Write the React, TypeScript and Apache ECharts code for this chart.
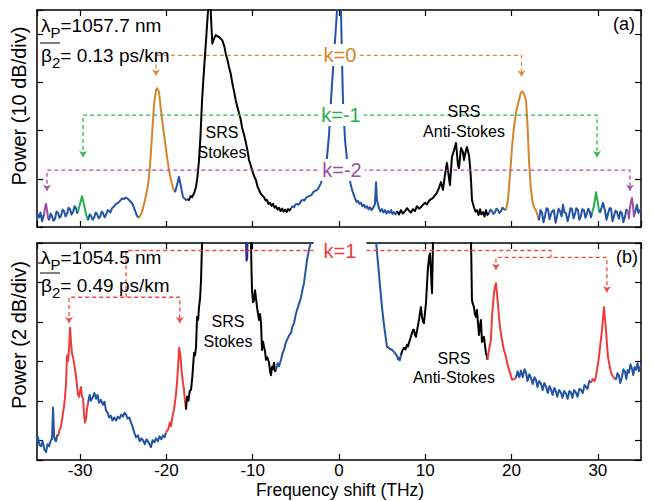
import React, { useEffect, useRef } from "react";
import * as echarts from "echarts";

const FONT = "Liberation Sans";

const BLUE = "#2454A6";
const BLACK = "#000000";
const ORANGE = "#D5852C";
const GREEN = "#22B04B";
const PURPLE = "#A14AA6";
const RED = "#EE3B3B";
const NAVY = "#2E3192";

// ---------- panel (a): frequency shift (THz), power (dB) ----------
const topBlueA = [[-35.1,1.4],[-34.9,2.6],[-34.76,2.0],[-34.6,3.0],[-34.41,1.2],[-34.18,2.7]];
const topPurpleA = [[-34.18,2.7],[-34.07,3.9],[-33.95,4.8],[-33.84,3.5],[-33.72,1.9],[-33.6,1.4]];
const topBlueB = [[-33.6,1.4],[-33.43,2.8],[-33.26,2.3],[-33.1,1.3],[-32.91,1.7],[-32.75,3.2],[-32.56,2.9],[-32.4,1.9],[-32.21,2.3],[-32.05,3.6],[-31.87,3.3],[-31.7,2.2],[-31.52,2.7],[-31.35,4.0],[-31.17,3.7],[-31.0,2.6],[-30.82,3.1],[-30.65,4.3],[-30.48,3.9],[-30.35,2.9],[-30.24,3.3]];
const topGreenA = [[-30.24,3.3],[-30.01,4.8],[-29.78,6.4],[-29.55,4.6],[-29.32,2.7],[-29.08,1.4]];
const topBlueC = [[-29.08,1.4],[-28.9,2.6],[-28.74,2.3],[-28.55,1.5],[-28.39,1.9],[-28.2,3.0],[-28.04,2.7],[-27.85,1.8],[-27.69,2.1],[-27.5,3.2],[-27.35,2.9],[-27.15,2.0],[-27.0,2.5],[-26.8,3.5],[-26.65,3.3],[-26.5,3.0],[-26.3,3.9],[-26.1,4.2],[-25.84,4.8],[-25.6,5.0],[-25.38,5.4],[-25.15,5.9],[-24.91,5.8],[-24.7,6.1],[-24.45,5.8],[-24.1,5.2],[-23.9,4.6],[-23.75,3.9],[-23.41,2.3],[-23.17,1.9]];
const topOrangeA = [[-23.17,1.9],[-22.83,3.1],[-22.48,5.6],[-22.13,8.7],[-21.9,12.8],[-21.67,19.0],[-21.44,25.3],[-21.21,28.4],[-21.09,28.8],[-20.86,28.0],[-20.63,24.2],[-20.39,20.7],[-20.16,17.6],[-19.93,14.5],[-19.7,11.8],[-19.47,9.7],[-19.24,8.1],[-19.0,7.2]];
const topBlueD = [[-19.0,7.2],[-18.77,8.7],[-18.54,10.4],[-18.31,8.3],[-18.08,6.2],[-17.73,5.6],[-17.5,5.8]];
const topBlackA = [[-17.5,5.8],[-17.38,5.6],[-17.2,6.4],[-17.03,6.2],[-16.8,7.0],[-16.57,8.3],[-16.4,10.5],[-16.22,13.9],[-16.05,19.0],[-15.87,26.3],[-15.64,32.8],[-15.41,38.7],[-15.18,44.9],[-15.0,52],[-14.85,44.0],[-14.68,38.0],[-14.5,39.0],[-14.29,39.8],[-14.1,39.6],[-13.9,39.4],[-13.52,38.7],[-13.3,37.5],[-13.13,36.0],[-12.95,34.8],[-12.75,33.2],[-12.55,31.8],[-12.36,29.8],[-12.17,28.2],[-11.97,26.3],[-11.8,25.1],[-11.59,23.6],[-11.4,22.4],[-11.24,20.7],[-11.0,19.1],[-10.78,17.4],[-10.6,15.8],[-10.43,13.9],[-10.25,12.9],[-10.08,11.8],[-9.85,10.6],[-9.62,9.7],[-9.45,8.4],[-9.27,7.7],[-9.1,7.0],[-8.92,6.6],[-8.69,6.2],[-8.5,5.5],[-8.34,5.6],[-8.17,4.8],[-8.0,5.0],[-7.82,4.4],[-7.65,4.8],[-7.47,4.0],[-7.3,4.3],[-7.12,3.6],[-6.95,4.0],[-6.78,3.3],[-6.6,3.8],[-6.43,3.2],[-6.26,3.6],[-6.08,3.1],[-5.91,3.7],[-5.73,3.4],[-5.56,3.9]];
const topBlueE = [[-5.56,3.9],[-5.38,4.3],[-5.21,4.1],[-5.04,4.7],[-4.87,4.8],[-4.7,4.6],[-4.52,5.0],[-4.35,5.5],[-4.17,5.6],[-4.0,5.5],[-3.82,6.0],[-3.65,6.3],[-3.48,6.4],[-3.3,6.5],[-3.13,6.8],[-2.95,7.3],[-2.78,7.5],[-2.6,7.6],[-2.43,7.9],[-2.09,9.1],[-1.74,11.4],[-1.39,14.5],[-1.16,19.0],[-0.93,26.3],[-0.7,32.5],[-0.46,38.7],[-0.23,44.9],[0,60],[0.23,44.9],[0.35,34.6],[0.46,26.3],[0.7,18.0],[0.93,13.9],[1.16,10.4],[1.51,7.7],[1.85,6.0],[2.03,5.2],[2.2,5.4],[2.38,4.8],[2.55,5.0],[2.72,4.3],[2.9,4.6],[3.07,4.0],[3.24,4.3],[3.42,3.7],[3.59,4.1],[3.76,3.5],[3.94,3.9],[4.17,4.8],[4.29,9.3],[4.4,5.6],[4.63,3.9],[4.8,3.2],[4.98,3.7],[5.15,3.0],[5.33,3.5],[5.5,2.8],[5.68,3.3],[5.85,2.9],[6.03,3.5],[6.2,2.7],[6.37,3.1],[6.55,2.6],[6.72,3.3]];
const topBlackB = [[6.72,3.3],[6.95,2.6],[7.18,3.5],[7.4,2.8],[7.65,3.3],[7.88,3.9],[8.11,3.4],[8.34,3.0],[8.57,3.7],[8.8,3.3],[9.04,4.3],[9.27,3.8],[9.5,4.1],[9.73,4.6],[9.97,5.0],[10.2,4.7],[10.43,5.4],[10.66,5.8],[10.89,6.0],[11.07,6.5],[11.24,6.8],[11.42,7.4],[11.59,8.1],[11.82,9.3],[12.05,7.7],[12.28,10.8],[12.51,13.3],[12.75,10.1],[12.86,8.7],[13.09,14.5],[13.33,15.9],[13.56,17.4],[13.79,12.8],[13.9,12.2],[14.14,16.4],[14.37,15.5],[14.48,13.9],[14.72,15.9],[14.83,16.6],[15.06,14.9],[15.18,12.8],[15.3,9.7],[15.41,5.6],[15.64,4.1],[15.82,3.2],[15.99,3.5],[16.17,2.5],[16.34,3.7],[16.5,2.6],[16.69,3.1],[16.86,2.2],[17.03,3.5],[17.2,2.5],[17.38,2.9]];
const topBlueF = [[17.38,2.9],[17.55,3.6],[17.73,3.3],[17.9,2.7],[18.08,3.1],[18.25,3.8],[18.42,3.5],[18.6,2.9],[18.77,3.3],[18.95,4.0],[19.12,3.7],[19.35,3.5]];
const topOrangeB = [[19.35,3.5],[19.58,5.6],[19.7,8.3],[19.89,12.4],[20.05,16.6],[20.28,20.7],[20.51,23.6],[20.63,24.8],[20.86,26.3],[21.05,27.7],[21.2,28.1],[21.32,28.0],[21.55,27.1],[21.67,26.3],[21.86,20.7],[22.02,13.9],[22.21,8.3],[22.4,5.6],[22.6,4.1],[22.78,3.6],[22.94,2.9],[23.17,1.4]];
const topBlueG = [[23.17,1.4],[23.35,3.5],[23.52,3.1],[23.7,1.0],[23.87,2.3],[24.05,3.9],[24.22,3.7],[24.4,1.6],[24.57,2.7],[24.75,3.4],[24.91,3.5],[25.1,0.9],[25.26,2.1],[25.45,3.8],[25.61,3.3],[25.8,2.2],[25.96,4.6],[26.13,3.0],[26.3,2.9],[26.5,1.2],[26.65,2.3],[26.82,3.9],[27.0,3.7],[27.18,1.8],[27.35,2.7],[27.5,3.9],[27.69,3.5],[27.86,1.5],[28.04,2.3],[28.2,3.7],[28.39,3.5],[28.56,1.9],[28.74,2.9],[28.9,3.8],[29.08,3.1],[29.2,2.0],[29.32,2.9]];
const topGreenB = [[29.32,2.9],[29.5,4.0],[29.66,5.6],[29.78,7.2],[29.9,6.0],[30.01,5.0],[30.12,3.5],[30.24,2.9]];
const topBlueH = [[30.24,2.9],[30.4,3.8],[30.59,5.0],[30.82,3.5],[31.0,1.5],[31.17,2.7],[31.35,3.9],[31.52,3.9],[31.7,1.2],[31.87,2.3],[32.05,3.4],[32.21,3.1],[32.45,1.7],[32.6,3.2],[32.79,2.9],[32.95,1.0],[33.14,2.1],[33.3,3.6],[33.49,3.3]];
const topPurpleB = [[33.49,3.3],[33.6,1.8],[33.72,4.1],[33.95,6.0],[34.07,4.6],[34.18,2.2],[34.3,2.9]];
const topBlueI = [[34.3,2.9],[34.45,4.0],[34.53,4.6],[34.7,2.9],[34.88,3.5],[35.0,3.7]];

// ---------- panel (b) ----------
const botBlueA = [[-35.11,-0.1],[-34.9,0.15],[-34.7,-0.25],[-34.53,-0.3],[-34.35,-0.05],[-34.15,-0.45],[-33.95,-0.6],[-33.78,-0.2],[-33.6,-0.3],[-33.4,0.0],[-33.26,0.05],[-33.14,1.66],[-33.02,0.2],[-32.9,0.0],[-32.79,-0.05],[-32.67,0.25],[-32.56,0.2]];
const botRedA = [[-32.56,0.2],[-32.38,0.55],[-32.21,0.71],[-32.05,1.2],[-31.87,1.71],[-31.75,2.2],[-31.63,2.9],[-31.52,4.3],[-31.4,4.0],[-31.29,4.6],[-31.17,5.7],[-31.05,4.9],[-30.94,4.4],[-30.82,4.2],[-30.7,3.9],[-30.59,3.6],[-30.47,3.2],[-30.35,2.7],[-30.24,2.3],[-30.13,2.2],[-30.0,2.5],[-29.9,2.7],[-29.78,2.2],[-29.66,2.1],[-29.55,1.3],[-29.43,0.9],[-29.32,1.1],[-29.2,1.6],[-29.08,1.9]];
const botBlueB = [[-29.08,1.9],[-28.9,2.3],[-28.75,2.0],[-28.51,2.2],[-28.35,2.4],[-28.16,2.1],[-27.98,2.3],[-27.81,1.9],[-27.6,2.05],[-27.35,1.8],[-27.18,1.95],[-27.0,1.5],[-26.82,1.4],[-26.65,1.15],[-26.45,1.25],[-26.25,1.0],[-26.05,1.15],[-25.84,1.0],[-25.64,1.2],[-25.43,1.1],[-25.23,1.3],[-25.03,1.2],[-24.85,1.4],[-24.68,1.3],[-24.5,1.1],[-24.3,1.15],[-24.1,0.9],[-23.9,0.65],[-23.7,0.35],[-23.52,0.15],[-23.3,0.25],[-23.1,-0.05],[-22.9,0.1],[-22.71,0.0],[-22.5,-0.2],[-22.3,0.05],[-22.02,-0.15],[-21.8,-0.35],[-21.6,0.0],[-21.4,-0.1],[-21.21,0.1],[-21.0,-0.05],[-20.8,0.2],[-20.6,0.05],[-20.39,0.25],[-20.2,0.15],[-20.05,0.4]];
const botRedB = [[-20.05,0.4],[-19.8,0.55],[-19.6,0.9],[-19.47,0.71],[-19.3,1.2],[-19.12,1.56],[-18.9,2.3],[-18.75,3.07],[-18.62,4.0],[-18.52,4.69],[-18.38,4.3],[-18.22,3.43],[-18.08,2.9],[-17.96,2.57],[-17.85,2.0],[-17.73,1.56]];
const botBlackA = [[-17.73,1.56],[-17.61,2.22],[-17.45,2.0],[-17.3,2.5],[-17.15,2.57],[-17.0,3.2],[-16.8,4.43],[-16.68,4.3],[-16.57,4.74],[-16.45,6.25],[-16.33,6.1],[-16.22,6.75],[-16.1,7.2],[-15.99,8.11],[-15.87,10.1],[-15.75,12]];
const botNavy = [[-10.8,10.5],[-10.72,9.1],[-10.64,9.2],[-10.58,10.5]];
const botBlackB = [[-10.35,12],[-10.2,10.1],[-10.14,8.6],[-10.08,7.61],[-9.97,7.0],[-9.85,7.1],[-9.73,7.61],[-9.62,7.2],[-9.5,6.75],[-9.38,6.4],[-9.27,6.1],[-9.15,6.4],[-9.04,5.94],[-8.92,4.58],[-8.8,5.0],[-8.69,4.74],[-8.57,4.5],[-8.46,4.08],[-8.3,4.2],[-8.11,3.93],[-7.99,3.5],[-7.88,3.3],[-7.76,3.73],[-7.65,3.6],[-7.53,3.93],[-7.41,3.5],[-7.3,3.58]];
const botBlueC = [[-7.3,3.58],[-7.1,3.9],[-6.95,3.75],[-6.72,4.08],[-6.55,4.4],[-6.37,4.58],[-6.2,4.9],[-6.03,5.09],[-5.8,5.3],[-5.56,5.44],[-5.4,5.75],[-5.21,5.94],[-5.05,6.3],[-4.87,6.6],[-4.65,6.9],[-4.4,7.25],[-4.25,7.6],[-4.06,7.96],[-3.9,8.5],[-3.71,9.12],[-3.5,9.6],[-3.24,10.1],[-2.5,12.5],[0,20],[3.5,12.5],[4.29,10.1]];
const botBlueD = [[4.29,10.1],[4.45,9.3],[4.63,8.46],[4.8,7.6],[4.98,6.75],[5.2,5.9],[5.45,5.09],[5.56,4.74],[5.75,4.7],[5.91,4.63],[6.1,4.6],[6.37,4.48],[6.55,4.38],[6.72,4.28],[6.85,4.1],[6.95,4.18],[7.05,4.05],[7.18,4.33]];
const botBlackC = [[7.18,4.33],[7.35,4.55],[7.53,4.69],[7.7,4.6],[7.88,4.84],[8.0,4.75],[8.11,4.94],[8.3,5.2],[8.46,5.44],[8.58,5.6],[8.69,5.59],[8.8,5.35],[8.92,5.24],[9.1,5.7],[9.27,6.1],[9.4,6.5],[9.5,6.75],[9.62,6.25],[9.75,6.0],[9.85,5.94],[9.97,6.5],[10.08,6.95],[10.2,7.9],[10.31,8.77],[10.45,9.3],[10.54,9.47],[10.66,8.5],[10.78,7.46],[10.84,8.8],[10.89,10.1],[11.0,12]];
const botBlackD = [[15.1,12],[15.3,10.1],[15.41,7.1],[15.52,6.9],[15.64,6.75],[15.75,6.4],[15.87,6.25],[15.99,6.6],[16.1,6.0],[16.22,5.34],[16.34,5.8],[16.45,6.1],[16.57,4.99],[16.69,5.1],[16.8,5.24],[16.92,4.8],[17.03,4.43],[17.15,4.23],[17.2,4.08]];
const botRedC = [[17.2,4.08],[17.38,4.58],[17.5,4.85],[17.61,5.09],[17.73,6.25],[17.85,6.9],[17.96,7.46],[18.08,7.8],[18.19,7.96],[18.31,7.46],[18.42,6.9],[18.54,6.25],[18.7,5.6],[18.89,5.09],[19.1,4.6],[19.35,4.23],[19.5,3.9],[19.7,3.58],[19.9,3.3],[20.05,3.07],[20.3,3.1],[20.51,3.17]];
const botBlueE = [[20.51,3.17],[20.7,3.5],[20.9,3.2],[21.09,3.53],[21.3,3.2],[21.5,3.6],[21.67,3.43],[21.85,3.0],[22.05,3.35],[22.25,3.17],[22.45,2.85],[22.65,3.2],[22.83,3.07],[23.0,2.7],[23.2,3.0],[23.41,2.87],[23.6,2.55],[23.8,2.9],[23.99,2.72],[24.2,2.4],[24.4,2.75],[24.57,2.57],[24.75,2.3],[24.95,2.65],[25.14,2.47],[25.3,2.2],[25.5,2.55],[25.72,2.42],[25.9,2.15],[26.1,2.5],[26.3,2.37],[26.5,2.1],[26.7,2.5],[26.88,2.42],[27.05,2.15],[27.25,2.55],[27.46,2.42],[27.65,2.2],[27.85,2.6],[28.04,2.57],[28.25,2.4],[28.45,2.8],[28.62,2.72],[28.8,2.6],[29.0,3.0],[29.2,2.92]];
const botRedD = [[29.2,2.92],[29.4,3.1],[29.6,3.0],[29.78,3.22],[29.95,3.7],[30.13,4.23],[30.3,4.9],[30.48,5.59],[30.6,6.2],[30.71,6.75],[30.82,6.2],[30.94,5.59],[31.05,4.9],[31.17,4.23],[31.35,3.8],[31.52,3.43],[31.8,3.2],[32.1,3.07]];
const botBlueF = [[32.1,3.07],[32.27,3.4],[32.45,3.27],[32.6,2.9],[32.79,3.17],[32.95,3.6],[33.14,3.48],[33.3,3.1],[33.45,3.55],[33.6,3.43],[33.78,3.85],[33.95,3.63],[34.1,3.3],[34.25,3.7],[34.41,3.58],[34.6,3.9],[34.75,3.5],[34.88,3.68],[35.0,3.8]];

// ---------- annotation brackets (data coordinates) ----------
const bracketK0 = [[-21.2,31.4],[-21.2,35.6],[21.15,35.6],[21.15,31.2]];
const bracketKm1 = [[-29.66,14.5],[-29.66,23.2],[29.9,23.2],[29.9,14.5]];
const bracketKm2 = [[-33.84,7.5],[-33.84,11.8],[33.72,11.8],[33.72,7.5]];
const bracketK1Top = [[-24.68,7.25],[-24.68,9.62],[24.57,9.62],[24.57,9.27]];
const bracketK1Right = [[18.19,8.65],[18.19,9.27],[31.05,9.27],[31.05,7.5]];
const bracketK1Left = [[-31.29,5.94],[-31.29,7.25],[-18.45,7.25],[-18.45,5.94]];

const X_MIN = -35;
const X_MAX = 35;

function seg(data: number[][], color: string, panel: number) {
  const ax = panel === 0 ? 0 : 2;
  return {
    type: "line",
    data,
    xAxisIndex: ax,
    yAxisIndex: ax,
    symbol: "none",
    showSymbol: false,
    clip: true,
    silent: true,
    z: 3,
    lineStyle: { color, width: 2, join: "round" },
    itemStyle: { color },
  };
}

function bracket(data: number[][], color: string, panel: number, tips: number[]) {
  const ax = panel === 0 ? 0 : 2;
  return {
    type: "line",
    xAxisIndex: ax,
    yAxisIndex: ax,
    symbol: "none",
    showSymbol: true,
    silent: true,
    z: 4,
    clip: false,
    data: data.map((p, i) =>
      tips.includes(i)
        ? { value: p, symbol: "arrow", symbolSize: [6, 6], symbolRotate: 180, itemStyle: { color } }
        : { value: p, symbol: "none" }
    ),
    lineStyle: { color, width: 1.3, type: [4, 3] },
    itemStyle: { color },
  };
}

function txt(text: string, x: number, y: number, size: number, color = "#000", extra: any = {}) {
  return {
    type: "text",
    x,
    y,
    z: 100,
    silent: true,
    style: {
      text,
      fill: color,
      fontSize: size,
      fontFamily: FONT,
      align: "center",
      verticalAlign: "middle",
      ...extra,
    },
  };
}

function subText(text: string, x: number, y: number) {
  return {
    type: "text",
    x,
    y,
    z: 100,
    silent: true,
    style: {
      text,
      fill: "#000",
      fontSize: 19,
      fontFamily: FONT,
      align: "left",
      verticalAlign: "middle",
      rich: {
        s: { fontSize: 15, fontFamily: FONT, fill: "#000", padding: [14, 0, 0, 0] },
      },
    },
  };
}

function hline(x1: number, x2: number, y: number) {
  return {
    type: "line",
    z: 100,
    silent: true,
    shape: { x1, y1: y, x2, y2: y },
    style: { stroke: "#000", lineWidth: 1 },
  };
}

const axisLineStyle = { show: true, onZero: false, lineStyle: { color: "#000", width: 1.5 } };
const tickStyle = { show: true, inside: true, length: 6, lineStyle: { color: "#000", width: 1.2 } };

function xAx(grid: number, position: string, labels: boolean) {
  return {
    type: "value",
    gridIndex: grid,
    position,
    min: X_MIN,
    max: X_MAX,
    splitNumber: 7,
    axisLine: axisLineStyle,
    axisTick: tickStyle,
    splitLine: { show: false },
    axisLabel: labels
      ? { show: true, color: "#000", fontSize: 17, fontFamily: FONT, margin: 2, showMinLabel: false, showMaxLabel: false }
      : { show: false },
  };
}

function yAx(grid: number, position: string, range: any) {
  return {
    type: "value",
    gridIndex: grid,
    position,
    ...range,
    axisLine: axisLineStyle,
    axisTick: tickStyle,
    splitLine: { show: false },
    axisLabel: { show: false },
  };
}

const topRange = { min: 0, max: 45, interval: 10 };
const botRange = { min: -1, max: 10, splitNumber: 5 };

export default function App() {
  const ref = useRef<HTMLDivElement>(null);
  useEffect(() => {
    const chart = echarts.init(ref.current as HTMLDivElement, null, { renderer: "svg" });
    const option: any = {
      animation: false,
      backgroundColor: "#fff",
      grid: [
        { left: 37, top: 10, width: 604, height: 217, containLabel: false },
        { left: 37, top: 243, width: 604, height: 217, containLabel: false },
      ],
      xAxis: [xAx(0, "bottom", false), xAx(0, "top", false), xAx(1, "bottom", true), xAx(1, "top", false)],
      yAxis: [yAx(0, "left", topRange), yAx(0, "right", topRange), yAx(1, "left", botRange), yAx(1, "right", botRange)],
      series: [
        seg(topBlueA, BLUE, 0), seg(topPurpleA, PURPLE, 0), seg(topBlueB, BLUE, 0), seg(topGreenA, GREEN, 0),
        seg(topBlueC, BLUE, 0), seg(topOrangeA, ORANGE, 0), seg(topBlueD, BLUE, 0), seg(topBlackA, BLACK, 0),
        seg(topBlueE, BLUE, 0), seg(topBlackB, BLACK, 0), seg(topBlueF, BLUE, 0), seg(topOrangeB, ORANGE, 0),
        seg(topBlueG, BLUE, 0), seg(topGreenB, GREEN, 0), seg(topBlueH, BLUE, 0), seg(topPurpleB, PURPLE, 0),
        seg(topBlueI, BLUE, 0),
        seg(botBlueA, BLUE, 1), seg(botRedA, RED, 1), seg(botBlueB, BLUE, 1), seg(botRedB, RED, 1),
        seg(botBlackA, BLACK, 1), seg(botNavy, NAVY, 1), seg(botBlackB, BLACK, 1), seg(botBlueC, BLUE, 1),
        seg(botBlueD, BLUE, 1), seg(botBlackC, BLACK, 1), seg(botBlackD, BLACK, 1), seg(botRedC, RED, 1),
        seg(botBlueE, BLUE, 1), seg(botRedD, RED, 1), seg(botBlueF, BLUE, 1),
        bracket(bracketK0, "#D98A3A", 0, [0, 3]),
        bracket(bracketKm1, "#2DB551", 0, [0, 3]),
        bracket(bracketKm2, "#A94FB0", 0, [0, 3]),
        bracket(bracketK1Top, "#F04848", 1, []),
        bracket(bracketK1Right, "#F04848", 1, [0, 3]),
        bracket(bracketK1Left, "#F04848", 1, [0, 3]),
      ],
      graphic: [
        txt("Power (10 dB/div)", 19, 106, 20, "#000", {}),
        txt("Power (2 dB/div)", 19, 335, 20, "#000", {}),
        txt("Frequency shift (THz)", 340, 490, 17.5),
        subText("λ{s|P}=1057.7 nm", 41, 25),
        subText("β{s|2}= 0.13 ps/km", 41, 55),
        subText("λ{s|P}=1054.5 nm", 41, 257),
        subText("β{s|2}= 0.49 ps/km", 41, 285),
        hline(40, 60, 43),
        hline(38, 44, 263),
        hline(40, 60, 273),
        txt("(a)", 624, 24, 18),
        txt("(b)", 627, 257, 18),
        txt("SRS", 222, 132, 16),
        txt("Stokes", 222, 152, 16),
        txt("SRS", 464, 111, 16),
        txt("Anti-Stokes", 464, 131, 16),
        txt("SRS", 228, 321, 16),
        txt("Stokes", 228, 341, 16),
        txt("SRS", 454, 358, 16),
        txt("Anti-Stokes", 454, 377, 16),
        txt("k=0", 340, 55, 20, "#D5852C", { backgroundColor: "#fff", padding: [1, 2] }),
        txt("k=-1", 341, 115, 20, "#22B04B", { backgroundColor: "#fff", padding: [1, 3] }),
        txt("k=-2", 342, 170, 20, "#A14AA6", { backgroundColor: "#fff", padding: [1, 3] }),
        txt("k=1", 340, 251, 20, "#EE3B3B", { backgroundColor: "#fff", padding: [1, 10] }),
      ].map((g: any, i: number) => (i < 2 ? { ...g, rotation: Math.PI / 2 } : g)),
    };
    chart.setOption(option);
    return () => chart.dispose();
  }, []);
  return (
    <div
      ref={ref}
      style={{ position: "absolute", left: 0, top: 0, width: 653, height: 501, background: "#fff" }}
    />
  );
}
